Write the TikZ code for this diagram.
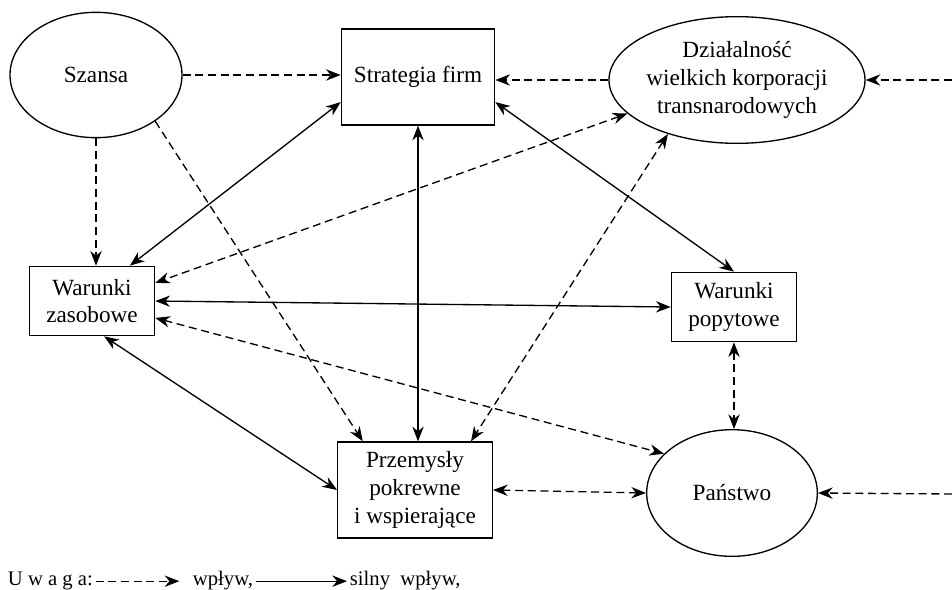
\documentclass[tikz,border=0pt]{standalone}
\usepackage{fontspec}
\setmainfont{Liberation Serif}
\usepackage{tikz}
\usetikzlibrary{positioning,shapes.geometric,arrows.meta}
\tikzstyle{factor} = [
    draw, line width=1pt,
    align=center, inner sep=0pt,
    font=\fontsize{17.4}{20.8}\selectfont,
]
\tikzstyle{oval} = [
    factor,
    ellipse,
]
\tikzstyle{block} = [
    factor,
    rectangle,
]
\tikzstyle{legend} = [
    inner sep=2pt,
    text height=1.5ex, text depth=.25ex,
    font=\fontsize{15.5}{18}\selectfont,
]
\tikzstyle{strong} = [line width=1pt]
\tikzstyle{weak} = [strong, dash pattern=on 6pt off 3.5pt]

\begin{document}
\begin{tikzpicture}[x=0.75pt, y=-0.75pt, >={Stealth[length=11pt,width=8.5pt]}]
    \useasboundingbox (0,0) rectangle (952,589);

    % ellipses
    \node (szansa) at (96,75) [oval, minimum width=129pt, minimum height=94pt] {Szansa};
    \node (korp) at (737,80) [oval, minimum width=180pt, minimum height=95pt] {Działalność\\wielkich korporacji\\transnarodowych};
    \node (panstwo) at (732,493) [oval, minimum width=128pt, minimum height=95pt] {Państwo};

    % boxes
    \node (strategia) at (418,77) [block, minimum width=115pt, minimum height=72pt] {Strategia firm};
    \node (zasoby) at (92,301) [block, minimum width=94pt, minimum height=52pt] {Warunki\\zasobowe};
    \node (popyt) at (734,307) [block, minimum width=94pt, minimum height=52pt] {Warunki\\popytowe};
    \node (przemysly) at (415,490) [block, minimum width=116pt, minimum height=72pt] {Przemysły\\pokrewne\\i wspierające};

    \coordinate (zewn1) at (952,80);
    \coordinate (zewn2) at (952,494);

    % weak influence
    \draw [weak, ->] (szansa.east) -- (szansa.east -| strategia.west);
    \draw [weak, ->] (korp.west) -- (korp.west -| strategia.east);
    \draw [weak, ->] (zewn1) -- (korp.east);
    \draw [weak, ->] (zewn2) -- (panstwo.east);
    \draw [weak, ->] (szansa.south) -- (szansa.south |- zasoby.north);
    \draw [weak, ->] (szansa.-38) -- (przemysly.137);
    \draw [weak, <->] (korp.197) -- (zasoby.16);
    \draw [weak, <->] (korp.218) -- (przemysly.41);
    \draw [weak, <->] (zasoby.-15) -- (panstwo.150);
    \draw [weak, <->] (popyt.south) -- (popyt.south |- panstwo.north);
    \draw [weak, <->] (przemysly.east) -- (panstwo.west);

    % strong influence
    \draw [strong, <->] (strategia.198) -- (zasoby.43);
    \draw [strong, <->] (strategia.south) -- (strategia.south |- przemysly.north);
    \draw [strong, <->] (strategia.-18) -- (popyt.north);
    \draw [strong, <->] (zasoby.east) -- (popyt.west);
    \draw [strong, <->] (zasoby.-71) -- (przemysly.west);

    % legend
    \node (uwaga) at (5,585) [legend, anchor=base west] {U w a g a:};
    \node (wplyw) at (190,585) [legend, anchor=base west] {wpływ,};
    \node (silny) at (347,585) [legend, anchor=base west] {silny\ \ wpływ,};
    \draw [weak, ->, shorten >=8pt] (uwaga) -- (wplyw);
    \draw [strong, ->] (wplyw) -- (silny);

\end{tikzpicture}
\end{document}
